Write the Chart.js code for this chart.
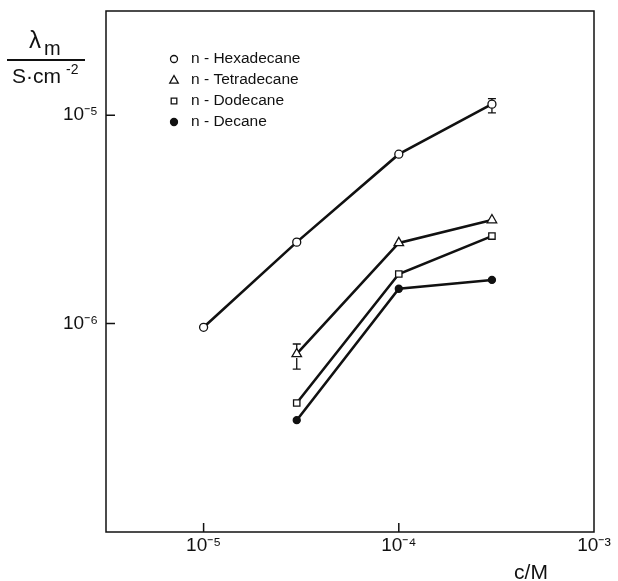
<!DOCTYPE html>
<html>
<head>
<meta charset="utf-8">
<script src="https://cdn.jsdelivr.net/npm/chart.js@4"></script>
<style>
  body { margin: 0; background: #fff; }
  canvas { display: block; }
</style>
</head>
<body>
<canvas id="chart" width="618" height="581"></canvas>
<script>
// Concentration c/M (x) and specific conductance lambda_m / S cm^-2 (y)
const concentrations = [1e-5, 3e-5, 1e-4, 3e-4];
const seriesNames = ['n - Hexadecane', 'n - Tetradecane', 'n - Dodecane', 'n - Decane'];
const hexadecane  = [9.6e-7, 2.46e-6, 6.5e-6, 1.13e-5];
const tetradecane = [null, 7.15e-7, 2.44e-6, 3.14e-6];
const dodecane    = [null, 4.16e-7, 1.73e-6, 2.63e-6];
const decane      = [null, 3.44e-7, 1.47e-6, 1.62e-6];

// Error bars: [series index, x, low, high]
const errorBars = [
  [0, 3e-4, 1.026e-5, 1.20e-5],
  [1, 3e-5, 6.05e-7, 7.98e-7]
];

const xTicks = [1e-5, 1e-4, 1e-3];
const yTicks = [1e-6, 1e-5];
const xTickLabels = ['10\u207B\u2075', '10\u207B\u2074', '10\u207B\u00B3'];
const yTickLabels = ['10\u207B\u2076', '10\u207B\u2075'];

const INK = '#111';

function toPoints(values) {
  return concentrations
    .map((c, i) => ({ x: c, y: values[i] }))
    .filter(p => p.y !== null);
}

// draw one marker in the same style as the dataset
function drawMarker(ctx, style, filled, x, y, r) {
  ctx.save();
  ctx.lineWidth = 1.3;
  ctx.strokeStyle = INK;
  ctx.fillStyle = filled ? INK : '#fff';
  ctx.beginPath();
  if (style === 'triangle') {
    ctx.moveTo(x, y - r);
    ctx.lineTo(x + r * 0.95, y + r * 0.7);
    ctx.lineTo(x - r * 0.95, y + r * 0.7);
    ctx.closePath();
  } else if (style === 'rect') {
    ctx.rect(x - r * 0.8, y - r * 0.8, r * 1.6, r * 1.6);
  } else {
    ctx.arc(x, y, r, 0, Math.PI * 2);
  }
  ctx.fill();
  ctx.stroke();
  ctx.restore();
}

const decorations = {
  id: 'decorations',
  afterDraw(chart) {
    const ctx = chart.ctx;
    const area = chart.chartArea;
    const xs = chart.scales.x, ys = chart.scales.y;

    // frame
    ctx.save();
    ctx.strokeStyle = INK;
    ctx.lineWidth = 1.5;
    ctx.strokeRect(area.left, area.top, area.right - area.left, area.bottom - area.top);

    // inward tick marks
    ctx.beginPath();
    xTicks.forEach(v => {
      const px = xs.getPixelForValue(v);
      if (px < area.right - 2) {
        ctx.moveTo(px, area.bottom);
        ctx.lineTo(px, area.bottom - 9);
      }
    });
    yTicks.forEach(v => {
      const py = ys.getPixelForValue(v);
      ctx.moveTo(area.left, py);
      ctx.lineTo(area.left + 9, py);
    });
    ctx.stroke();

    // error bars
    ctx.lineWidth = 1.3;
    errorBars.forEach(([s, x, lo, hi]) => {
      const px = xs.getPixelForValue(x);
      const pLo = ys.getPixelForValue(lo), pHi = ys.getPixelForValue(hi);
      const py = ys.getPixelForValue(chart.data.datasets[s].data.find(p => p.x === x).y);
      ctx.beginPath();
      ctx.moveTo(px, pHi); ctx.lineTo(px, py - 4);
      ctx.moveTo(px, py + 4); ctx.lineTo(px, pLo);
      ctx.moveTo(px - 4, pHi); ctx.lineTo(px + 4, pHi);
      ctx.moveTo(px - 4, pLo); ctx.lineTo(px + 4, pLo);
      ctx.stroke();
    });

    // legend inside the plot
    ctx.font = '15.5px "Liberation Sans", Arial, sans-serif';
    ctx.fillStyle = INK;
    ctx.textBaseline = 'middle';
    chart.data.datasets.forEach((ds, i) => {
      const y = 59 + i * 21;
      drawMarker(ctx, ds.pointStyle, ds.pointBackgroundColor === INK, 174, y, ds.pointStyle === 'triangle' ? 4.5 : 3.5);
      ctx.fillText(seriesNames[i], 191, y);
    });

    // y axis title as a fraction
    ctx.textBaseline = 'alphabetic';
    ctx.font = '24px "Liberation Sans", Arial, sans-serif';
    ctx.fillText('\u03BB', 29, 48);
    ctx.font = '20px "Liberation Sans", Arial, sans-serif';
    ctx.fillText('m', 44, 55);
    ctx.lineWidth = 2;
    ctx.beginPath();
    ctx.moveTo(7, 60); ctx.lineTo(85, 60);
    ctx.stroke();
    ctx.font = '21px "Liberation Sans", Arial, sans-serif';
    ctx.fillText('S\u00B7cm', 12, 83);
    ctx.font = '14px "Liberation Sans", Arial, sans-serif';
    ctx.fillText('-2', 66, 74);

    // x axis title
    ctx.font = '21px "Liberation Sans", Arial, sans-serif';
    ctx.textAlign = 'center';
    ctx.fillText('c/M', 531, 579);
    ctx.restore();
  }
};

const tickFont = { family: '"Liberation Sans", Arial, sans-serif', size: 19 };

const datasets = [hexadecane, tetradecane, dodecane, decane].map((values, i) => ({
  label: seriesNames[i],
  data: toPoints(values),
  borderColor: INK,
  borderWidth: 2.6,
  pointStyle: ['circle', 'triangle', 'rect', 'circle'][i],
  pointRadius: [4, 5.5, 4.5, 3.5][i],
  pointBorderWidth: 1.3,
  pointBorderColor: INK,
  pointBackgroundColor: i === 3 ? INK : '#fff',
  tension: 0
}));

new Chart(document.getElementById('chart').getContext('2d'), {
  type: 'line',
  data: { datasets },
  options: {
    responsive: false,
    animation: false,
    devicePixelRatio: 1,
    layout: { padding: { top: 11, right: 24, left: 0, bottom: 0 } },
    plugins: { legend: { display: false }, tooltip: { enabled: false } },
    scales: {
      x: {
        type: 'logarithmic',
        min: Math.pow(10, -5.5),
        max: 1e-3,
        grid: { display: false, drawTicks: false },
        border: { display: false },
        afterBuildTicks: scale => { scale.ticks = xTicks.map(v => ({ value: v })); },
        afterFit: scale => { scale.height = 49; scale.paddingLeft = 0; scale.paddingRight = 0; },
        ticks: {
          color: INK,
          font: tickFont,
          padding: 2,
          maxRotation: 0,
          autoSkip: false,
          callback: v => xTickLabels[xTicks.indexOf(v)] || ''
        }
      },
      y: {
        type: 'logarithmic',
        min: 1e-7,
        max: Math.pow(10, -4.5),
        grid: { display: false, drawTicks: false },
        border: { display: false },
        afterBuildTicks: scale => { scale.ticks = yTicks.map(v => ({ value: v })); },
        afterFit: scale => { scale.width = 106; scale.paddingTop = 0; scale.paddingBottom = 0; },
        ticks: {
          color: INK,
          font: tickFont,
          padding: 8,
          autoSkip: false,
          callback: v => yTickLabels[yTicks.indexOf(v)] || ''
        }
      }
    }
  },
  plugins: [decorations]
});
</script>
</body>
</html>
